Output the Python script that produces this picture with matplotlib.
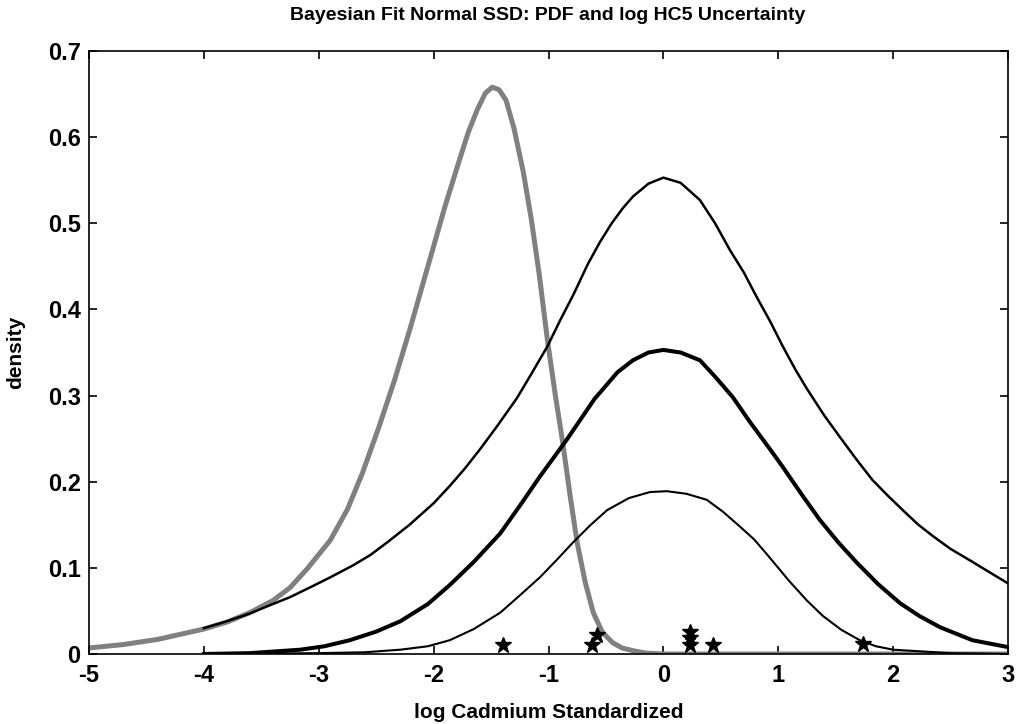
import numpy as np
import matplotlib
matplotlib.use('Agg')
import matplotlib.pyplot as plt

# log HC5 uncertainty (grey)
hc5_x = [-5.0, -4.7, -4.4, -4.0, -3.8, -3.6, -3.4, -3.25, -3.1, -2.9, -2.75, -2.62, -2.48,
         -2.34, -2.2, -2.05, -1.9, -1.8, -1.7, -1.62, -1.55, -1.49, -1.43, -1.37, -1.3,
         -1.22, -1.15, -1.08, -1.01, -0.94, -0.88, -0.81, -0.75, -0.68, -0.61, -0.53,
         -0.44, -0.36, -0.27, -0.15, 0.0, 3.0]
hc5_y = [0.007, 0.011, 0.017, 0.029, 0.037, 0.048, 0.062, 0.077, 0.099, 0.132, 0.168, 0.21,
         0.262, 0.318, 0.38, 0.45, 0.52, 0.563, 0.605, 0.632, 0.651, 0.658, 0.655, 0.643,
         0.61, 0.56, 0.505, 0.44, 0.365, 0.3, 0.249, 0.182, 0.129, 0.083, 0.048, 0.025,
         0.013, 0.007, 0.004, 0.001, 0.0, 0.0]

# SSD pdf: upper, median, lower
up_x = [-4.0, -3.8, -3.6, -3.4, -3.25, -3.05, -2.9, -2.7, -2.55, -2.4, -2.21, -2.0, -1.86,
        -1.73, -1.6, -1.45, -1.275, -1.15, -1.01, -0.9, -0.78, -0.66, -0.553, -0.45, -0.35,
        -0.265, -0.13, 0.0, 0.15, 0.318, 0.45, 0.579, 0.7, 0.81, 0.93, 1.04, 1.15, 1.249,
        1.4, 1.536, 1.68, 1.82, 1.96, 2.1, 2.22, 2.345, 2.5, 2.69, 2.85, 3.0]
up_y = [0.030, 0.038, 0.047, 0.058, 0.066, 0.079, 0.089, 0.103, 0.115, 0.130, 0.150, 0.175,
        0.195, 0.215, 0.237, 0.264, 0.297, 0.325, 0.357, 0.387, 0.418, 0.452, 0.478, 0.500,
        0.518, 0.531, 0.546, 0.553, 0.547, 0.527, 0.500, 0.469, 0.443, 0.415, 0.386, 0.357,
        0.330, 0.308, 0.277, 0.252, 0.226, 0.202, 0.183, 0.165, 0.150, 0.137, 0.122, 0.107,
        0.094, 0.082]

mid_x = [-4.0, -3.6, -3.16, -2.95, -2.73, -2.5, -2.29, -2.05, -1.86, -1.65, -1.42, -1.25,
         -1.075, -0.84, -0.6, -0.4, -0.265, -0.13, 0.0, 0.15, 0.318, 0.45, 0.605, 0.75,
         0.927, 1.04, 1.2, 1.36, 1.52, 1.684, 1.87, 2.06, 2.23, 2.41, 2.69, 3.0]
mid_y = [0.0, 0.001, 0.005, 0.009, 0.016, 0.026, 0.038, 0.058, 0.080, 0.107, 0.140, 0.172,
         0.206, 0.249, 0.296, 0.327, 0.341, 0.35, 0.353, 0.35, 0.341, 0.322, 0.298, 0.27,
         0.238, 0.217, 0.186, 0.156, 0.13, 0.106, 0.081, 0.059, 0.044, 0.031, 0.016, 0.008]

low_x = [-4.0, -3.0, -2.6, -2.29, -2.05, -1.86, -1.65, -1.42, -1.25, -1.075, -0.93, -0.79,
         -0.64, -0.49, -0.3, -0.117, 0.03, 0.2, 0.378, 0.52, 0.666, 0.79, 0.90, 1.0, 1.10,
         1.25, 1.39, 1.55, 1.71, 1.85, 2.0, 2.5, 3.0]
low_y = [0.0, 0.001, 0.002, 0.005, 0.009, 0.016, 0.029, 0.048, 0.068, 0.089, 0.109, 0.129,
         0.149, 0.167, 0.181, 0.188, 0.189, 0.186, 0.179, 0.165, 0.148, 0.133, 0.116, 0.100,
         0.084, 0.062, 0.044, 0.028, 0.016, 0.009, 0.005, 0.001, 0.0]

# observed data
obs_x = [-1.40, -0.62, -0.58, 0.23, 0.23, 0.23, 0.43, 1.74]
obs_y = [0.010, 0.010, 0.022, 0.011, 0.018, 0.025, 0.011, 0.012]

plt.rcParams['font.family'] = ['Liberation Sans', 'DejaVu Sans']
plt.rcParams['font.weight'] = 'bold'
plt.rcParams['axes.unicode_minus'] = False

fig = plt.figure(figsize=(10.24, 7.24), dpi=100)
ax = fig.add_axes([89/1024, 1-654/724, 919/1024, 603/724])

ax.plot(hc5_x, hc5_y, color='#808080', linewidth=3.6)
ax.plot(up_x, up_y, color='k', linewidth=1.8)
ax.plot(mid_x, mid_y, color='k', linewidth=2.9)
ax.plot(low_x, low_y, color='k', linewidth=1.5)
ax.plot(obs_x, obs_y, '*', color='k', markersize=12)

ax.set_xlim(-5, 3)
ax.set_ylim(0, 0.7)
ax.set_xticks(range(-5, 4))
ax.set_yticks(np.arange(0, 0.71, 0.1))
ax.set_yticklabels(['0', '0.1', '0.2', '0.3', '0.4', '0.5', '0.6', '0.7'])
ax.tick_params(direction='in', top=True, right=True, length=6, width=1.2,
               labelsize=17)
ax.tick_params(axis='x', pad=7)
ax.tick_params(axis='y', pad=6)
for s in ax.spines.values():
    s.set_linewidth(1.2)

ax.set_xlabel('log Cadmium Standardized', fontsize=15, fontweight='bold')
ax.xaxis.set_label_coords(0.5, -0.082)
ax.set_ylabel('density', fontsize=15, fontweight='bold')
ax.yaxis.set_label_coords(-0.0696, 0.5)
fig.text(548/1024, 1-15/724, 'Bayesian Fit Normal SSD: PDF and log HC5 Uncertainty',
         ha='center', va='center', fontsize=14, fontweight='bold')

plt.savefig('out.png', dpi=100)
